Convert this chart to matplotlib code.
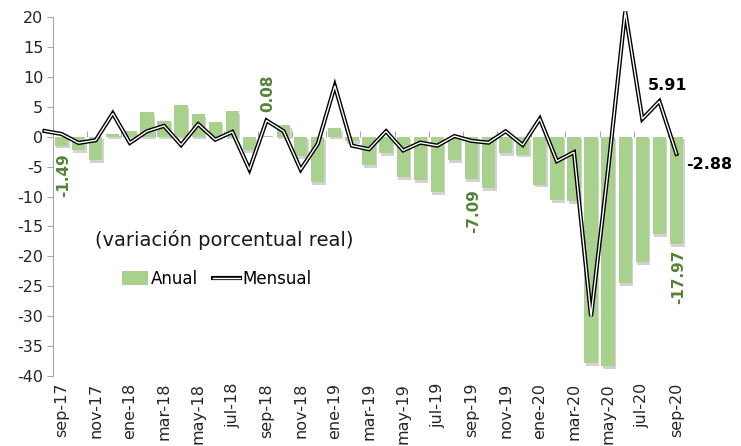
import matplotlib.pyplot as plt
import matplotlib.patheffects as pe
from matplotlib.patches import Patch
from matplotlib.lines import Line2D

plt.rcParams["font.family"] = ["DejaVu Sans"]
plt.rcParams["axes.unicode_minus"] = False

meses = [
    "sep-17", "oct-17", "nov-17", "dic-17", "ene-18", "feb-18", "mar-18",
    "abr-18", "may-18", "jun-18", "jul-18", "ago-18", "sep-18", "oct-18",
    "nov-18", "dic-18", "ene-19", "feb-19", "mar-19", "abr-19", "may-19",
    "jun-19", "jul-19", "ago-19", "sep-19", "oct-19", "nov-19", "dic-19",
    "ene-20", "feb-20", "mar-20", "abr-20", "may-20", "jun-20", "jul-20",
    "ago-20", "sep-20",
]
anual = [
    -1.49, -2.3, -3.9, 0.5, 0.9, 4.1, 2.7, 5.3, 3.8, 2.5, 4.3, -2.3, 0.08,
    1.9, -3.2, -7.6, 1.4, -0.8, -4.7, -2.7, -6.7, -7.3, -9.3, -3.9, -7.09,
    -8.6, -2.7, -3.0, -8.0, -10.6, -10.8, -37.8, -38.4, -24.5, -21.0, -16.3,
    -17.97,
]
mensual = [
    0.45, -1.05, -0.6, 3.9, -1.05, 0.9, 1.8, -1.4, 2.1, -0.5, 0.8, -5.5, 2.7,
    0.9, -5.5, -1.2, 8.5, -1.5, -2.1, 0.9, -2.3, -1.0, -1.5, 0.1, -0.7,
    -1.0, 0.9, -1.4, 3.0, -4.1, -2.6, -30.0, -5.5, 20.9, 2.95, 5.91, -2.88,
]
mensual_ago17 = 0.95  # previous month, only the clipped start of the line shows

verde = "#a9d18e"
verde_osc = "#548235"
gris = "#a6a6a6"
ymin, ymax = -40, 20

fig = plt.figure(figsize=(7.41, 4.46), dpi=100)
ax = fig.add_axes([53 / 741, 1 - 376 / 446, 632 / 741, 359 / 446])

x = list(range(len(meses)))
bars = ax.bar(x, anual, width=0.78, color=verde, zorder=2)
for b in bars:
    b.set_path_effects([
        pe.SimplePatchShadow(offset=(1, -2), shadow_rgbFace="#808080", alpha=0.35),
        pe.Normal(),
    ])

xl = [-1] + x
yl = [mensual_ago17] + mensual
ax.plot(xl, yl, color="black", lw=3.0, solid_joinstyle="miter", zorder=4)
ax.plot(xl, yl, color="white", lw=1.0, solid_joinstyle="miter", zorder=5)
for ln in ax.lines:
    ln.set_clip_path(None)
    ln.set_clip_box(None)

ax.set_xlim(-0.5, len(meses) - 0.5)
ax.set_ylim(ymin, ymax)
ax.set_yticks(range(ymin, ymax + 1, 5))
ax.tick_params(axis="y", length=4, color=gris, labelsize=11.5, labelcolor="#262626", pad=3)
ax.set_xticks(x[::2])
ax.set_xticklabels(meses[::2], rotation=90)
ax.tick_params(axis="x", length=0, labelsize=11.5, labelcolor="#262626", pad=5)
for s in ["top", "right", "bottom"]:
    ax.spines[s].set_visible(False)
ax.spines["left"].set_color(gris)

# zero line with its own tick marks between pairs of months
sec = ax.secondary_xaxis((0 - ymin) / (ymax - ymin))
sec.set_xticks([i + 0.5 for i in x[1::2]])
sec.tick_params(axis="x", length=4, color=gris, labelbottom=False, labeltop=False,
                direction="out")
sec.spines["bottom"].set_color(gris)
sec.spines["bottom"].set_linewidth(1.2)
sec.spines["top"].set_visible(False)

# data labels
for i, off, va in [(0, -1.2, "top"), (12, 4.0, "bottom"), (24, -1.6, "top"), (36, -0.9, "top")]:
    ax.text(i + 0.1, anual[i] + off, f"{anual[i]:.2f}", rotation=90, ha="center", va=va,
            color=verde_osc, fontsize=11, fontweight="bold")
ax.text(35 + 0.45, mensual[35] + 1.4, f"{mensual[35]:.2f}", ha="center", va="bottom",
        fontsize=11.5, fontweight="bold", color="black")
ax.text(36 + 0.55, mensual[36] - 1.8, f"{mensual[36]:.2f}", ha="left", va="center",
        fontsize=11.5, fontweight="bold", color="black")

ax.text(0.066, 0.379, "(variación porcentual real)", transform=ax.transAxes,
        fontsize=14, va="center", ha="left", color="#1a1a1a")

h_anual = Patch(facecolor=verde, edgecolor="none")
h_mens = (Line2D([], [], color="black", lw=3.0), Line2D([], [], color="white", lw=1.0))
ax.legend([h_anual, h_mens], ["Anual", "Mensual"], loc="center left",
          bbox_to_anchor=(0.085, 0.27), frameon=False, ncol=2, fontsize=12,
          handlelength=1.6, handleheight=0.9, handletextpad=0.15, columnspacing=0.9)

fig.savefig("out.png", dpi=100)
